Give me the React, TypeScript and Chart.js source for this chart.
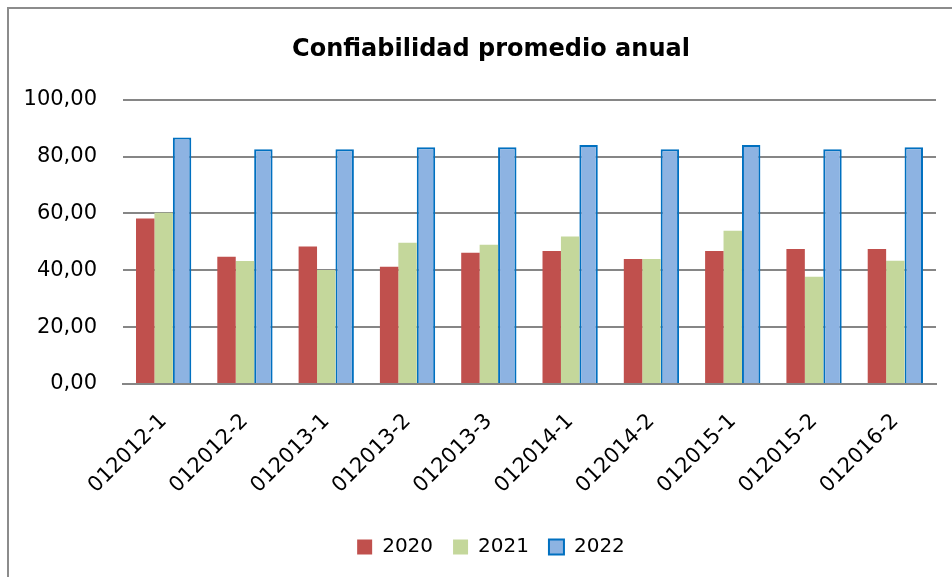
import React, { useEffect, useRef } from "react";
import { Chart, registerables } from "chart.js";

Chart.register(...registerables);

const categories = [
  "012012-1", "012012-2", "012013-1", "012013-2", "012013-3",
  "012014-1", "012014-2", "012015-1", "012015-2", "012016-2",
];
const series2020 = [58.2, 44.8, 48.4, 41.3, 46.2, 46.8, 44.0, 46.8, 47.5, 47.5];
const series2021 = [60.3, 43.3, 40.1, 49.7, 49.0, 51.9, 44.0, 53.9, 37.7, 43.4];
const series2022 = [86.7, 82.6, 82.6, 83.3, 83.3, 84.1, 82.6, 84.1, 82.6, 83.3];
const seriesNames = ["2020", "2021", "2022"];
const yTicks = [0, 20, 40, 60, 80, 100];

const FONT = "'DejaVu Sans', sans-serif";

export default function App() {
  const ref = useRef<HTMLCanvasElement | null>(null);

  useEffect(() => {
    if (!ref.current) return;
    const chart = new Chart(ref.current, {
      type: "bar",
      data: {
        labels: categories,
        datasets: [
          {
            label: seriesNames[0],
            data: series2020,
            backgroundColor: "#C0504D",
            borderWidth: 0,
          },
          {
            label: seriesNames[1],
            data: series2021,
            backgroundColor: "#C4D79B",
            borderWidth: 0,
          },
          {
            label: seriesNames[2],
            data: series2022,
            backgroundColor: "#8DB3E2",
            borderColor: "#0070C0",
            borderWidth: 2,
          },
        ],
      },
      options: {
        responsive: false,
        animation: false,
        layout: { padding: { left: 0, right: 0, top: 0, bottom: 10 } },
        datasets: {
          bar: { categoryPercentage: 0.68, barPercentage: 1.0 },
        },
        plugins: {
          title: {
            display: true,
            text: "Confiabilidad promedio anual",
            color: "#000",
            font: { family: FONT, size: 24, weight: "bold" },
            padding: { top: 26, bottom: 36 },
          },
          legend: {
            position: "bottom",
            labels: {
              color: "#000",
              font: { family: FONT, size: 20 },
              boxWidth: 15,
              boxHeight: 15,
              padding: 20,
            },
          },
          tooltip: { enabled: false },
        },
        scales: {
          x: {
            grid: { display: false },
            border: { display: true, color: "#868686", width: 2 },
            ticks: {
              color: "#000",
              font: { family: FONT, size: 21 },
              minRotation: 45,
              maxRotation: 45,
              padding: 17,
            },
            afterFit: (scale: any) => {
              scale.height = 133;
            },
          },
          y: {
            min: 0,
            max: 100,
            afterBuildTicks: (scale: any) => {
              scale.ticks = yTicks.map((v) => ({ value: v }));
            },
            grid: { color: "#868686", lineWidth: 2, drawTicks: false },
            border: { display: false },
            ticks: {
              color: "#000",
              font: { family: FONT, size: 21 },
              padding: 26,
              callback: (v: any) => Number(v).toFixed(2).replace(".", ","),
            },
            afterFit: (scale: any) => {
              scale.width = 114;
            },
          },
          spacer: {
            type: "linear",
            position: "right",
            grid: { display: false, drawTicks: false },
            border: { display: false },
            ticks: { display: false },
            afterFit: (scale: any) => {
              scale.width = 37;
            },
          },
        },
      },
    });
    return () => chart.destroy();
  }, []);

  return (
    <div
      style={{
        position: "fixed",
        left: 0,
        top: 0,
        width: 952,
        height: 577,
        overflow: "hidden",
        background: "#fff",
      }}
    >
      <div
        style={{
          position: "absolute",
          left: 7,
          top: 7,
          width: 990,
          height: 600,
          border: "2px solid #8c8c8c",
          boxSizing: "border-box",
        }}
      >
        <canvas
          ref={ref}
          width={964}
          height={568}
          style={{ display: "block", width: 964, height: 568 }}
        />
      </div>
    </div>
  );
}
